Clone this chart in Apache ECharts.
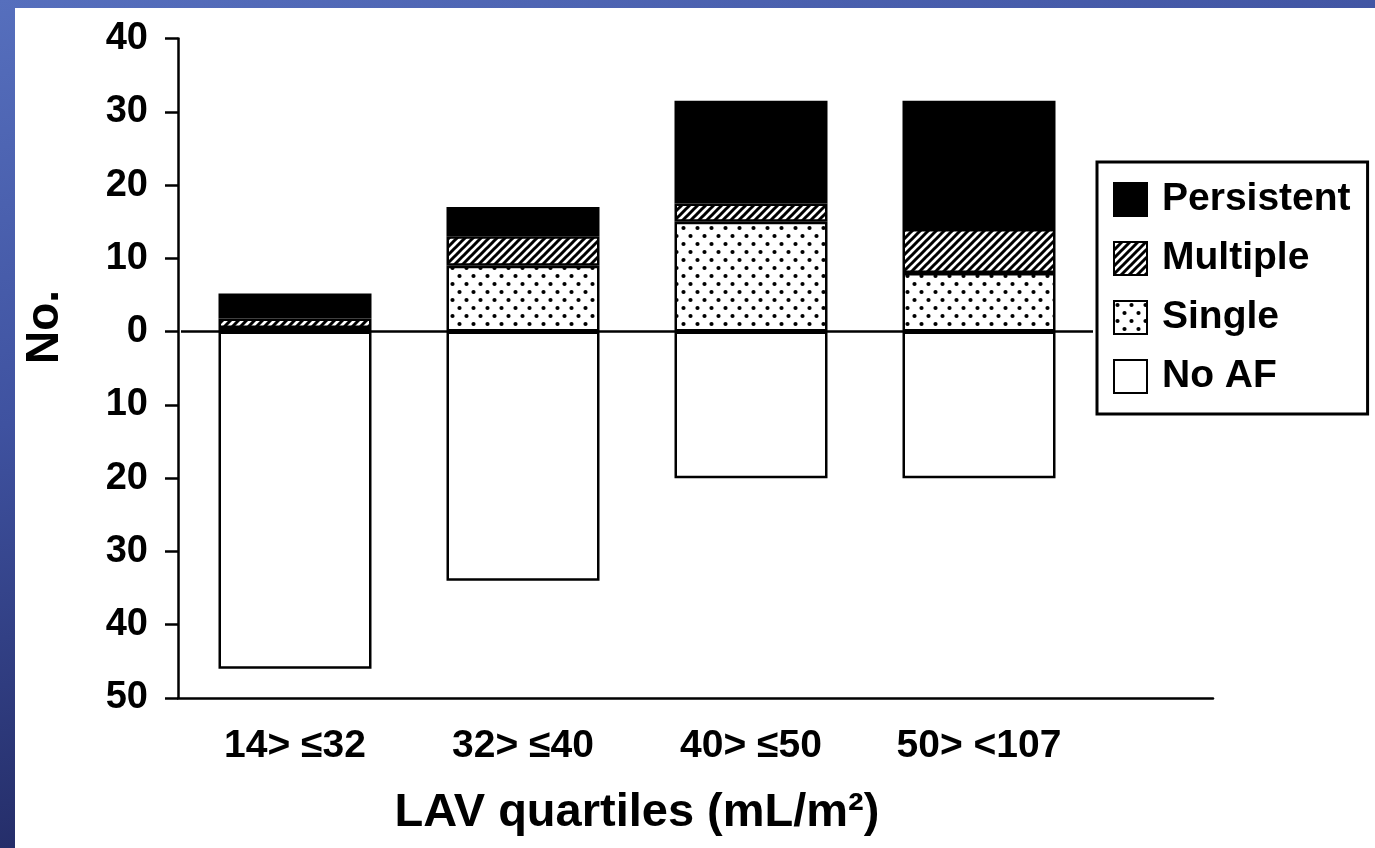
<!DOCTYPE html>
<html>
<head>
<meta charset="utf-8">
<script src="https://cdn.jsdelivr.net/npm/echarts@6/dist/echarts.min.js"></script>
<style>
  html, body { margin: 0; padding: 0; }
  body {
    width: 1375px; height: 848px; overflow: hidden; position: relative;
    background: linear-gradient(165deg, #566fbd 0%, #3f52a0 35%, #252e6a 70%, #161b44 100%);
  }
  #chart { position: absolute; left: 15px; top: 8px; width: 1360px; height: 840px; background: #fff; }
</style>
</head>
<body>
<div id="chart"></div>
<script>
// LAV quartiles and AF counts per quartile
const categories = ["14> \u226432", "32> \u226440", "40> \u226450", "50> <107"];
const single = [0.5, 9, 15, 8];
const multiple = [1.3, 4, 2.5, 6];
const persistent = [3.4, 4, 14, 17.5];
const noAF = [46, 34, 20, 20]; // drawn below zero
const yTicks = { min: -50, max: 40, interval: 10 };

const FONT = '"Liberation Sans", Arial, Helvetica, sans-serif';

// fill patterns like the printed figure
function hatchPattern() {
  const c = document.createElement("canvas");
  c.width = 8; c.height = 8;
  const g = c.getContext("2d");
  g.fillStyle = "#fff";
  g.fillRect(0, 0, 8, 8);
  g.strokeStyle = "#000";
  g.lineWidth = 3;
  g.beginPath();
  g.moveTo(-2, 10); g.lineTo(10, -2);
  g.moveTo(-2, 2); g.lineTo(2, -2);
  g.moveTo(6, 10); g.lineTo(10, 6);
  g.stroke();
  return c;
}
function dotPattern() {
  const c = document.createElement("canvas");
  c.width = 14; c.height = 16;
  const g = c.getContext("2d");
  g.fillStyle = "#fff";
  g.fillRect(0, 0, 14, 16);
  g.fillStyle = "#000";
  [[3.5, 4], [10.5, 12]].forEach(([x, y]) => {
    g.beginPath();
    g.arc(x, y, 2.1, 0, Math.PI * 2);
    g.fill();
  });
  return c;
}

const border = { borderColor: "#000", borderWidth: 2.5 };
const barBase = { type: "bar", stack: "af", xAxisIndex: 1, yAxisIndex: 1, barWidth: 153 };

const chart = echarts.init(document.getElementById("chart"));
chart.setOption({
  animation: false,
  textStyle: { fontFamily: FONT },
  grid: [
    { left: 163, right: 162, top: 30.5, bottom: 150 },
    { left: 166, right: 282, top: 30.5, bottom: 150 },
  ],
  legend: {
    data: ["Persistent", "Multiple", "Single", "No AF"],
    orient: "vertical",
    left: 1082,
    top: 154,
    padding: [18, 17, 18, 16],
    itemWidth: 33,
    itemHeight: 33,
    itemGap: 20,
    borderColor: "#000",
    borderWidth: 3,
    backgroundColor: "#fff",
    icon: "rect",
    textStyle: { fontSize: 39, fontWeight: "bold", color: "#000", fontFamily: FONT, padding: [0, 0, 0, 10] },
  },
  xAxis: [
    {
      gridIndex: 0, type: "category", data: [""],
      axisLine: { onZero: false, lineStyle: { color: "#000", width: 2.5 } },
      axisTick: { show: false }, axisLabel: { show: false },
    },
    {
      gridIndex: 1, type: "category", data: categories,
      axisLine: { show: false, onZero: false }, axisTick: { show: false },
      axisLabel: { fontSize: 39, fontWeight: "bold", color: "#000", margin: 29, fontFamily: FONT },
      name: "LAV quartiles (mL/m\u00b2)",
      nameLocation: "middle",
      nameGap: 92,
      nameTextStyle: { fontSize: 47, fontWeight: "bold", color: "#000", fontFamily: FONT },
    },
  ],
  yAxis: [
    {
      gridIndex: 0, type: "value", min: yTicks.min, max: yTicks.max, interval: yTicks.interval,
      axisLine: { show: true, lineStyle: { color: "#000", width: 2.5 } },
      axisTick: { show: true, length: 13, lineStyle: { color: "#000", width: 2.5 } },
      splitLine: { show: false },
      axisLabel: {
        fontSize: 38, fontWeight: "bold", color: "#000", margin: 30, fontFamily: FONT,
        formatter: (v) => String(Math.abs(v)),
      },
    },
    {
      gridIndex: 1, type: "value", min: yTicks.min, max: yTicks.max, interval: yTicks.interval,
      show: false,
    },
  ],
  graphic: [
    {
      type: "text", x: 30, y: 319, rotation: Math.PI / 2,
      style: { text: "No.", font: "bold 46px " + FONT, fill: "#000", textAlign: "center", textVerticalAlign: "middle" },
    },
  ],
  series: [
    Object.assign({}, barBase, {
      name: "Single", data: single,
      itemStyle: Object.assign({ color: { image: dotPattern(), repeat: "repeat" } }, border),
    }),
    Object.assign({}, barBase, {
      name: "Multiple", data: multiple,
      itemStyle: Object.assign({ color: { image: hatchPattern(), repeat: "repeat" } }, border),
    }),
    Object.assign({}, barBase, {
      name: "Persistent", data: persistent,
      itemStyle: Object.assign({ color: "#000" }, border),
    }),
    Object.assign({}, barBase, {
      name: "No AF", data: noAF.map((v) => -v),
      itemStyle: Object.assign({ color: "#fff" }, border),
      markLine: {
        silent: true, symbol: "none", label: { show: false },
        lineStyle: { color: "#000", width: 2.5, type: "solid" },
        data: [{ yAxis: 0 }],
      },
    }),
  ],
});
</script>
</body>
</html>
